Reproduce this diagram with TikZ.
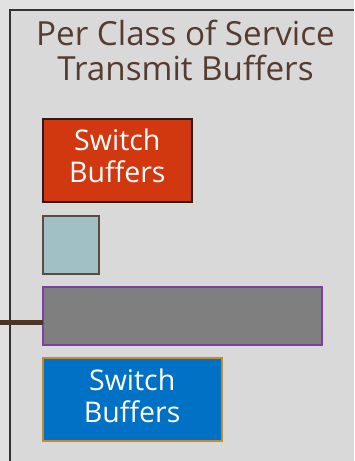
\documentclass[tikz,border=0pt]{standalone}
\usepackage{fontspec}
\setmainfont{Open Sans}
\definecolor{outerbg}{HTML}{E1E1E1}
\definecolor{panelbg}{HTML}{D9D9D9}
\definecolor{panelline}{HTML}{333333}
\definecolor{titlebrown}{HTML}{563B2F}
\definecolor{swred}{HTML}{D2380F}
\definecolor{swredline}{HTML}{2B1D17}
\definecolor{teal}{HTML}{A1C0C6}
\definecolor{tealline}{HTML}{5B4A40}
\definecolor{bargray}{HTML}{7F7F7F}
\definecolor{barline}{HTML}{7B3FA8}
\definecolor{swblue}{HTML}{0071C4}
\definecolor{swblueline}{HTML}{C48A2E}
\definecolor{stub}{HTML}{4D3526}
\tikzset{
  buf/.style={draw, line width=1.6pt, inner sep=0pt, outer sep=0pt, anchor=north west},
  boxtext/.style={text=white, anchor=base, inner sep=0pt,
    font=\fontsize{28.5}{32}\selectfont},
  titletext/.style={text=titlebrown, anchor=base, inner sep=0pt,
    font=\fontsize{33.2}{35}\selectfont},
}
\begin{document}
\begin{tikzpicture}[x=1pt, y=-1pt]
  \useasboundingbox (0,0) rectangle (354,461);
  \fill[outerbg] (0,0) rectangle (354,461);
  % panel with its top and left edges
  \fill[panelbg] (9.5,9.5) rectangle (354,461);
  \draw[panelline, line width=2pt] (9.5,461) -- (9.5,9.5) -- (354,9.5);
  % title
  \node[titletext] (t1) at (185.5,45) {Per Class of Service};
  \node[titletext] (t2) at (185.5,80) {Transmit Buffers};
  % buffers
  \node[buf, fill=swred, draw=swredline, minimum width=149.3pt, minimum height=83pt] (red) at (42.7,119) {};
  \node[boxtext] (r1) at (117.3,150) {Switch};
  \node[boxtext] (r2) at (117.3,182) {Buffers};
  \node[buf, fill=teal, draw=tealline, minimum width=56.3pt, minimum height=58.3pt] (sq) at (42.7,215.7) {};
  \node[buf, fill=bargray, draw=barline, line width=2pt, minimum width=279.3pt, minimum height=57.7pt] (bar) at (42.7,287.3) {};
  \node[buf, fill=swblue, draw=swblueline, line width=2pt, minimum width=179pt, minimum height=82.7pt] (blue) at (42.7,358) {};
  \node[boxtext] (b1) at (132.2,390) {Switch};
  \node[boxtext] (b2) at (132.2,422) {Buffers};
  % input link into the shared buffer
  \coordinate (in) at (0,322.5);
  \draw[stub, line width=5pt] (in) -- (in -| bar.west);
\end{tikzpicture}
\end{document}
